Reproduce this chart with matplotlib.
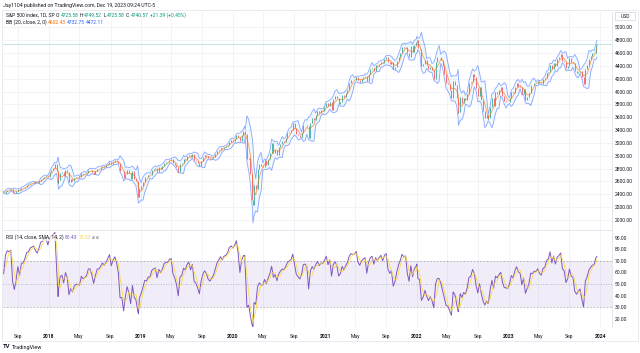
import numpy as np
import pandas as pd
import matplotlib
matplotlib.use("Agg")
import matplotlib.pyplot as plt
import matplotlib.dates as mdates
from matplotlib.patches import Rectangle

plt.rcParams['font.family'] = ['Roboto', 'DejaVu Sans']

# weekly (Friday) closes of the S&P 500
close_2017 = [2399, 2391, 2382, 2416,
              2439, 2432, 2433, 2438, 2423,
              2425, 2459, 2473, 2472, 2477, 2441, 2426, 2444,
              2477, 2461, 2500, 2502, 2519, 2549, 2553, 2575, 2581,
              2588, 2582, 2579, 2602, 2642, 2652, 2676, 2683, 2674]
close_2018 = [2743, 2786, 2810, 2873, 2762, 2620, 2732, 2747,
              2691, 2786, 2752, 2588, 2641, 2604, 2656, 2670, 2670,
              2663, 2728, 2713, 2721, 2735, 2779, 2780, 2755, 2718,
              2760, 2801, 2802, 2819, 2840, 2833, 2850, 2875, 2902,
              2872, 2905, 2930, 2914, 2886, 2767, 2768, 2658,
              2723, 2781, 2736, 2633, 2760, 2633, 2600, 2417, 2486]
close_2019 = [2532, 2596, 2671, 2665, 2707, 2708, 2776, 2793,
              2804, 2743, 2822, 2801, 2834, 2893, 2907, 2905, 2940,
              2946, 2881, 2860, 2826, 2752, 2873, 2887, 2950, 2942,
              2990, 3014, 2977, 3026, 2932, 2919, 2889, 2847, 2926,
              2979, 3007, 2992, 2962, 2952, 2970, 2986, 3023,
              3067, 3093, 3120, 3110, 3141, 3146, 3169, 3221, 3240]
close_2020 = [3235, 3265, 3330, 3295, 3226, 3328, 3380, 3338, 2954,
              2972, 2711, 2305, 2541, 2489, 2790, 2875, 2837,
              2831, 2930, 2864, 2955, 3044, 3194, 3041, 3098, 3009,
              3130, 3185, 3225, 3216, 3271, 3351, 3373, 3397, 3508,
              3427, 3341, 3319, 3298, 3348, 3477, 3484, 3465, 3270,
              3510, 3585, 3558, 3638, 3699, 3663, 3709, 3703]
close_2021 = [3756, 3825, 3768, 3841, 3714, 3887, 3934, 3907, 3811,
              3842, 3943, 3913, 3975, 4020, 4129, 4185, 4180, 4181,
              4233, 4174, 4156, 4204, 4230, 4247, 4166, 4281,
              4352, 4370, 4327, 4412, 4395, 4437, 4468, 4442, 4509,
              4535, 4459, 4433, 4455, 4357, 4391, 4471, 4545, 4605,
              4697, 4683, 4698, 4595, 4538, 4712, 4620, 4726, 4766]
close_2022 = [4677, 4663, 4398, 4432, 4500, 4419, 4349, 4385,
              4329, 4204, 4463, 4543, 4546, 4488, 4393, 4272, 4132,
              4123, 4024, 3901, 4158, 4109, 3901, 3675, 3912,
              3825, 3899, 3863, 3962, 4130, 4145, 4280, 4228, 4058,
              3924, 4067, 3873, 3693, 3586, 3640, 3583, 3753, 3901,
              3771, 3993, 3965, 4026, 4072, 3934, 3852, 3845, 3840]
close_2023 = [3895, 3999, 3973, 4071, 4136, 4090, 4079, 3970,
              4046, 3862, 3917, 3971, 4109, 4105, 4138, 4133, 4169,
              4136, 4124, 4192, 4205, 4282, 4299, 4410, 4348, 4450,
              4399, 4505, 4536, 4582, 4478, 4464, 4370, 4406,
              4516, 4457, 4450, 4320, 4288, 4309, 4327, 4224, 4117,
              4358, 4415, 4514, 4559, 4595, 4604, 4719]
last_date, last_close = "2023-12-19", 4740.57

# daily extremes that the weekly closes miss
extra_dates = ["2018-02-08", "2018-12-24", "2020-02-19", "2020-03-23",
               "2022-01-03", "2022-06-16", "2022-10-12"]
extra_close = [2581, 2351, 3386, 2237, 4797, 3667, 3577]

years = [("2017-05-05", "2017-12-29", close_2017),
         ("2018-01-05", "2018-12-28", close_2018),
         ("2019-01-04", "2019-12-27", close_2019),
         ("2020-01-03", "2020-12-25", close_2020),
         ("2021-01-01", "2021-12-31", close_2021),
         ("2022-01-07", "2022-12-30", close_2022),
         ("2023-01-06", "2023-12-15", close_2023)]

tick_dates = ["2017-09-01", "2018-01-02", "2018-05-01", "2018-09-04", "2019-01-02",
              "2019-05-01", "2019-09-03", "2020-01-02", "2020-05-01", "2020-09-01",
              "2021-01-04", "2021-05-03", "2021-09-01", "2022-01-03", "2022-05-02",
              "2022-09-01", "2023-01-03", "2023-05-01", "2023-09-01", "2024-01-02"]
tick_labels = ["Sep", "2018", "May", "Sep", "2019", "May", "Sep", "2020", "May", "Sep",
               "2021", "May", "Sep", "2022", "May", "Sep", "2023", "May", "Sep", "2024"]

dates, vals = [], []
for start, end, v in years:
    d = pd.date_range(start, end, freq="W-FRI")
    assert len(d) == len(v), (start, len(d), len(v))
    dates += list(d)
    vals += v
dates.append(pd.Timestamp(last_date))
vals.append(last_close)
s = pd.Series(vals, index=dates, dtype=float)
s = pd.concat([s, pd.Series(extra_close, index=pd.to_datetime(extra_dates), dtype=float)]).sort_index()

# Bollinger bands (20 days ~ 4 weeks, 2 std)
basis = s.rolling(4).mean()
sd = s.rolling(4).std(ddof=0)
upper = basis + 2 * sd
lower = basis - 2 * sd

# RSI on the weekly closes, period stretched so it swings like the daily 14 one
delta = s.diff()
au = delta.clip(lower=0).ewm(alpha=1/9).mean()
ad = (-delta.clip(upper=0)).ewm(alpha=1/9).mean()
rsi = 100 - 100 / (1 + au / ad)
rsi_ma = rsi.rolling(3).mean()

x = mdates.date2num(s.index)

W, H = 640, 353
fig = plt.figure(figsize=(6.4, 3.53), dpi=100)
fig.patch.set_facecolor("white")

def frac(x0, y0, x1, y1):
    return [x0 / W, 1 - y1 / H, (x1 - x0) / W, (y1 - y0) / H]

ax = fig.add_axes(frac(3, 12, 612, 230))
ax2 = fig.add_axes(frac(3, 231, 612, 327), sharex=ax)

grid_c = "#f0f2f6"
txt_c = "#131722"
up_c, dn_c = "#089981", "#F23645"

# price panel
ax.fill_between(x, lower, upper, color="#2196F3", alpha=0.06, lw=0)
ax.plot(x, upper, color="#2962FF", lw=0.6, alpha=0.55)
ax.plot(x, lower, color="#2962FF", lw=0.6, alpha=0.55)
prev = s.shift(1).values
cur = s.values
cols = np.where(cur >= prev, up_c, dn_c)
ax.vlines(x[1:], prev[1:], cur[1:], colors=cols[1:], lw=0.7, alpha=0.7)
ax.plot(x, basis, color="#FF6D00", lw=0.6, alpha=0.65)
ax.axhline(last_close, color="#26A69A", lw=0.8, alpha=0.25)

ax.set_ylim(1844, 5240)
ax.set_yticks(np.arange(2000, 5001, 200))
ax.set_yticklabels(["%.2f" % v for v in np.arange(2000, 5001, 200)])
ax.grid(True, color=grid_c, lw=0.6)
ax.set_axisbelow(True)

# RSI panel
ax2.axhspan(30, 70, color="#7E57C2", alpha=0.1, lw=0)
for lvl, ls in [(70, (0, (2, 2))), (50, (0, (1, 2))), (30, (0, (2, 2)))]:
    ax2.axhline(lvl, color="#787B86", lw=0.6, ls=ls, alpha=0.6)
ax2.plot(x, rsi, color="#7E57C2", lw=0.7)
ax2.plot(x, rsi_ma, color="#FDD835", lw=0.6, alpha=0.9)
ax2.set_ylim(12.8, 95.8)
ax2.set_yticks(np.arange(20, 91, 10))
ax2.set_yticklabels(["%.2f" % v for v in np.arange(20, 91, 10)])
ax2.grid(True, axis="x", color=grid_c, lw=0.6)
ax2.set_axisbelow(True)

ax2.set_xlim(mdates.date2num(pd.Timestamp("2017-07-04")), mdates.date2num(pd.Timestamp("2024-02-17")))
ax2.set_xticks(mdates.date2num(pd.to_datetime(tick_dates)))
ax2.set_xticklabels(tick_labels)
for lab in ax2.get_xticklabels():
    if lab.get_text().isdigit():
        lab.set_fontweight("bold")

for a in (ax, ax2):
    a.yaxis.tick_right()
    a.tick_params(axis="y", length=0, pad=2, labelsize=3.6, labelcolor=txt_c)
    a.tick_params(axis="x", length=0, pad=5, labelsize=3.6, labelcolor=txt_c)
    for sp in ("top", "left", "bottom"):
        a.spines[sp].set_visible(False)
    a.spines["right"].set_color("#e0e3eb")
    a.spines["right"].set_linewidth(0.6)
ax.tick_params(axis="x", labelbottom=False)
ax.spines["bottom"].set_visible(True)
ax.spines["bottom"].set_color("#e0e3eb")
ax.spines["bottom"].set_linewidth(0.6)

# header texts
r = fig.canvas.get_renderer()

def rich(x0, y0, parts, size):
    xp = x0
    for txt, col in parts:
        t = fig.text(xp / W, 1 - y0 / H, txt, color=col, fontsize=size, va="center", ha="left",
                     zorder=5, bbox=dict(facecolor="white", edgecolor="none", pad=0.3, alpha=0.6))
        xp += t.get_window_extent(renderer=r).width + 1.2

fig.text(3 / W, 1 - 6 / H, "Jay1104 published on TradingView.com, Dec 19, 2023 09:24 UTC-5",
         fontsize=3.7, color=txt_c, va="center")
rich(6, 15.5, [("S&P 500 index, 1D, SP", txt_c), ("O", txt_c), ("4725.58", up_c), ("H", txt_c),
               ("4749.52", up_c), ("L", txt_c), ("4725.58", up_c), ("C", txt_c), ("4740.57", up_c),
               ("+21.39 (+0.45%)", up_c)], 3.6)
rich(6, 22, [("BB (20, close, 2, 0)", txt_c), ("4602.43", "#FF6D00"), ("4732.75", "#2962FF"),
             ("4472.11", "#2962FF")], 3.6)
rich(6, 237.5, [("RSI (14, close, SMA, 14, 2)", txt_c), ("80.43", "#7E57C2"), ("72.03", "#F9D34A"),
                ("\u2300", "#787B86"), ("\u2300", "#787B86")], 3.6)

fig.patches.append(Rectangle((615 / W, 1 - 20 / H), 20 / W, 8 / H, transform=fig.transFigure,
                             fill=False, edgecolor="#d1d4dc", lw=0.5))
fig.text(625 / W, 1 - 16 / H, "USD", fontsize=3.6, color=txt_c, ha="center", va="center")

fig.text(3 / W, 1 - 347 / H, "TV", fontsize=4.2, color=txt_c, fontweight="bold", va="center")
fig.text(12 / W, 1 - 347 / H, "TradingView", fontsize=4.0, color=txt_c, va="center")

fig.patches.append(Rectangle((2 / W, 1 - 341 / H), 636 / W, 331 / H, transform=fig.transFigure,
                             fill=False, edgecolor="#e0e3eb", lw=0.5))

fig.savefig("out.png", dpi=100)
